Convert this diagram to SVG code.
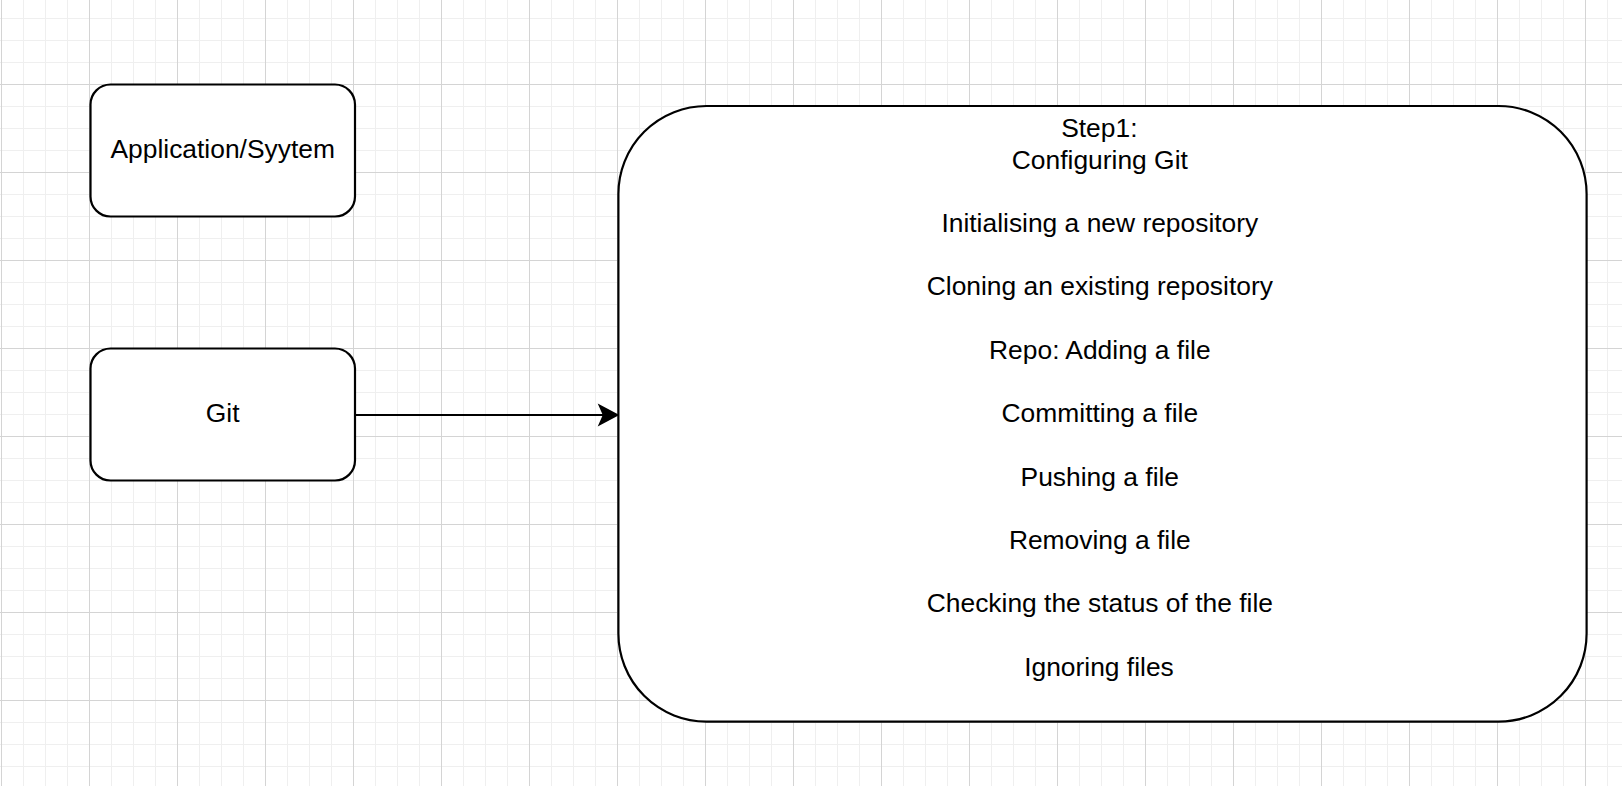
<svg xmlns="http://www.w3.org/2000/svg" width="1622" height="786" viewBox="0 0 1622 786">
  <style>
    .node { fill: #ffffff; stroke: #000000; stroke-width: 2.2; }
    .label { font-family: "Liberation Sans", Helvetica, Arial, sans-serif; font-size: 26.4px; fill: #000000; text-anchor: middle; }
    .edge { fill: none; stroke: #000000; stroke-width: 2.2; }
    .head { fill: #000000; stroke: #000000; stroke-width: 2.2; stroke-linejoin: miter; }
  </style>
  <defs>
    <!-- canvas grid: minor every 22px, major every 88px -->
    <pattern id="grid" x="1" y="84" width="88" height="88" patternUnits="userSpaceOnUse">
      <rect x="22" y="0" width="1" height="88" fill="#efefef"/>
      <rect x="44" y="0" width="1" height="88" fill="#efefef"/>
      <rect x="66" y="0" width="1" height="88" fill="#efefef"/>
      <rect x="0" y="22" width="88" height="1" fill="#efefef"/>
      <rect x="0" y="44" width="88" height="1" fill="#efefef"/>
      <rect x="0" y="66" width="88" height="1" fill="#efefef"/>
      <rect x="0" y="0" width="1" height="88" fill="#d4d4d4"/>
      <rect x="0" y="0" width="88" height="1" fill="#d4d4d4"/>
    </pattern>
  </defs>

  <rect x="0" y="0" width="1622" height="786" fill="#ffffff"/>
  <rect x="0" y="0" width="1622" height="786" fill="url(#grid)"/>

  <g id="connectors">
    <path class="edge" d="M 355 415 L 604 415"/>
    <polygon class="head" points="617,415 600,406 604,415 600,424"/>
  </g>

  <g id="node-application">
    <rect class="node" x="90.5" y="84.5" width="264.5" height="132" rx="20" ry="20"/>
    <text class="label" x="222.7" y="157.5">Application/Syytem</text>
  </g>

  <g id="node-git">
    <rect class="node" x="90.5" y="348.5" width="264.5" height="132" rx="20" ry="20"/>
    <text class="label" x="222.7" y="421.5">Git</text>
  </g>

  <g id="node-steps">
    <rect class="node" x="618.4" y="106" width="968.2" height="615.6" rx="88" ry="88"/>
    <text class="label" x="1103.5">
      <tspan x="1103" y="137">Step1:</tspan>
      <tspan x="1103.5" y="168.7">Configuring Git</tspan>
      <tspan x="1103.5" y="232">Initialising a new repository</tspan>
      <tspan x="1103.5" y="295.4">Cloning an existing repository</tspan>
      <tspan x="1103.5" y="358.8">Repo: Adding a file</tspan>
      <tspan x="1103.5" y="422.1">Committing a file</tspan>
      <tspan x="1103.5" y="485.5">Pushing a file</tspan>
      <tspan x="1103.5" y="548.8">Removing a file</tspan>
      <tspan x="1103.5" y="612.2">Checking the status of the file</tspan>
      <tspan x="1099" y="675.5">Ignoring files</tspan>
    </text>
  </g>
</svg>
